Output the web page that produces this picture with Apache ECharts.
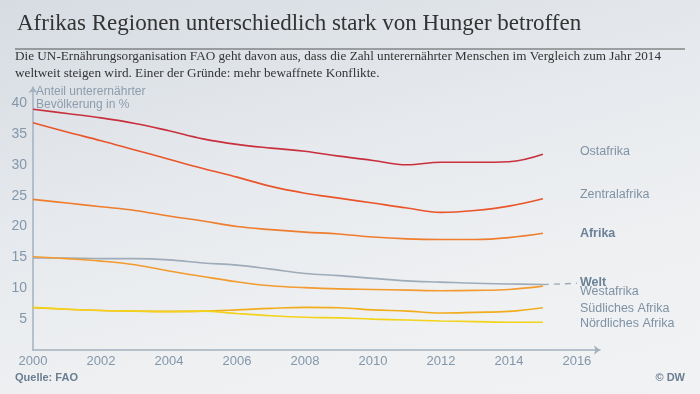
<!DOCTYPE html>
<html>
<head>
<meta charset="utf-8">
<script src="https://cdn.jsdelivr.net/npm/echarts@6/dist/echarts.min.js"></script>
<style>
html,body{margin:0;padding:0;}
#c{width:700px;height:394px;background:linear-gradient(165deg,#d6dce2 0%,#e6e9ed 40%,#eef0f2 70%,#f0f2f4 100%);}
</style>
</head>
<body>
<div id="c"></div>
<script>
const years = [2000,2001,2002,2003,2004,2005,2006,2007,2008,2009,2010,2011,2012,2013,2014,2015];
const ostafrika   = [39.0,38.3,37.6,36.7,35.5,34.2,33.3,32.7,32.2,31.4,30.7,30.0,30.4,30.4,30.5,31.7];
const zentral     = [36.8,35.3,33.9,32.4,30.9,29.4,28.0,26.5,25.4,24.6,23.8,23.0,22.3,22.6,23.3,24.5];
const afrika      = [24.4,23.8,23.2,22.6,21.7,20.9,20.0,19.5,19.1,18.8,18.3,18.0,17.9,17.9,18.2,18.9];
const welt        = [14.9,14.9,14.8,14.8,14.6,14.1,13.75,13.1,12.4,12.05,11.6,11.2,11.0,10.8,10.7,10.6];
const westafrika  = [15.1,14.8,14.4,13.8,12.8,11.9,11.05,10.4,10.1,9.9,9.8,9.7,9.6,9.65,9.8,10.35];
const suedlich    = [6.85,6.6,6.4,6.3,6.25,6.3,6.5,6.75,6.9,6.85,6.5,6.3,6.0,6.1,6.25,6.85];
const noerdlich   = [6.9,6.6,6.4,6.3,6.2,6.3,5.9,5.55,5.3,5.2,5.0,4.85,4.7,4.6,4.5,4.5];
const weltProjYears = [2015, 2016];
const weltProj      = [10.6, 10.8];
const yTicks = [5,10,15,20,25,30,35,40];
const xTicks = [2000,2002,2004,2006,2008,2010,2012,2014,2016];

const pairs = (xs, vs) => xs.map((x, i) => [x, vs[i]]);
const labelColor = '#7f92a5';
const SANS = 'Liberation Sans, Arial, sans-serif';

function regionSeries(name, values, color, dy, bold) {
  return {
    name: name, type: 'line', data: pairs(years, values), smooth: 0.4,
    symbol: 'none', lineStyle: { color: color, width: 1.6 },
    emphasis: { disabled: true },
    endLabel: {
      show: true, formatter: name, distance: 37, offset: [0, dy],
      color: bold ? '#6d8196' : labelColor, fontSize: 12.5,
      fontWeight: bold ? 'bold' : 'normal', fontFamily: SANS
    }
  };
}

const chart = echarts.init(document.getElementById('c'), null, { renderer: 'canvas' });
chart.setOption({
  animation: false,
  title: [{
    text: 'Afrikas Regionen unterschiedlich stark von Hunger betroffen',
    left: 12, top: 7,
    textStyle: { fontFamily: 'Liberation Serif, serif', fontSize: 23, fontWeight: 'normal', color: '#333' }
  }, {
    text: 'Die UN-Ernährungsorganisation FAO geht davon aus, dass die Zahl unterernährter Menschen im Vergleich zum Jahr 2014\nweltweit steigen wird. Einer der Gründe: mehr bewaffnete Konflikte.',
    left: 10, top: 43,
    textStyle: { fontFamily: 'Liberation Serif, serif', fontSize: 13.2, fontWeight: 'normal', color: '#333', lineHeight: 17 }
  }],
  graphic: [
    { type: 'line', shape: { x1: 15, y1: 49, x2: 685, y2: 49 }, style: { stroke: '#555', lineWidth: 1 } },
    { type: 'text', left: 36, top: 86, style: { text: 'Anteil unterernährter', fill: '#8c9cad', font: '12px Liberation Sans, Arial, sans-serif' } },
    { type: 'text', left: 36, top: 99, style: { text: 'Bevölkerung in %', fill: '#8c9cad', font: '12px Liberation Sans, Arial, sans-serif' } },
    { type: 'text', left: 15, top: 372, style: { text: 'Quelle: FAO', fill: '#6b7d90', font: 'bold 11px Liberation Sans, Arial, sans-serif' } },
    { type: 'text', right: 15, top: 372, style: { text: '© DW', fill: '#6b7d90', font: 'bold 11px Liberation Sans, Arial, sans-serif' } }
  ],
  grid: { left: 33, right: 100, top: 87, bottom: 44, containLabel: false },
  xAxis: {
    type: 'value', min: 2000, max: 2016.68, interval: 2,
    axisLine: { show: true, lineStyle: { color: '#a3b1bf', width: 1.5 }, symbol: ['none', 'arrow'], symbolSize: [7, 6] },
    axisTick: { show: false },
    splitLine: { show: false },
    axisLabel: {
      color: '#8397ab', fontSize: 13, margin: 5, fontFamily: SANS,
      showMaxLabel: false,
      formatter: v => (xTicks.indexOf(v) >= 0 ? String(v) : '')
    }
  },
  yAxis: {
    type: 'value', min: 0, max: 42.6, interval: 5,
    axisLine: { show: true, lineStyle: { color: '#a3b1bf', width: 1.5 }, symbol: ['none', 'arrow'], symbolSize: [7, 6] },
    axisTick: { show: false },
    splitLine: { show: false },
    axisLabel: {
      color: '#8397ab', fontSize: 14, margin: 6, fontFamily: SANS,
      formatter: v => (yTicks.indexOf(v) >= 0 ? String(v) : '')
    }
  },
  series: [
    regionSeries('Ostafrika', ostafrika, '#c9303e', -3, false),
    regionSeries('Zentralafrika', zentral, '#e9562b', -4, false),
    regionSeries('Afrika', afrika, '#ef7d2d', 0, true),
    {
      name: 'Welt', type: 'line', data: pairs(years, welt), smooth: 0.4, symbol: 'none',
      lineStyle: { color: '#9eabb8', width: 1.6 }, emphasis: { disabled: true }
    },
    {
      name: 'WeltProj', type: 'line', data: pairs(weltProjYears, weltProj), symbol: 'none',
      lineStyle: { color: '#9eabb8', width: 1.4, type: [6, 5] }, emphasis: { disabled: true },
      endLabel: {
        show: true, formatter: 'Welt', distance: 3, offset: [0, -1],
        color: '#6d8196', fontSize: 12.5, fontWeight: 'bold', fontFamily: SANS
      }
    },
    regionSeries('Westafrika', westafrika, '#f39b2f', 5, false),
    regionSeries('Südliches Afrika', suedlich, '#f2ad1f', 1, false),
    regionSeries('Nördliches Afrika', noerdlich, '#f3d31a', 1, false)
  ]
});
</script>
</body>
</html>
